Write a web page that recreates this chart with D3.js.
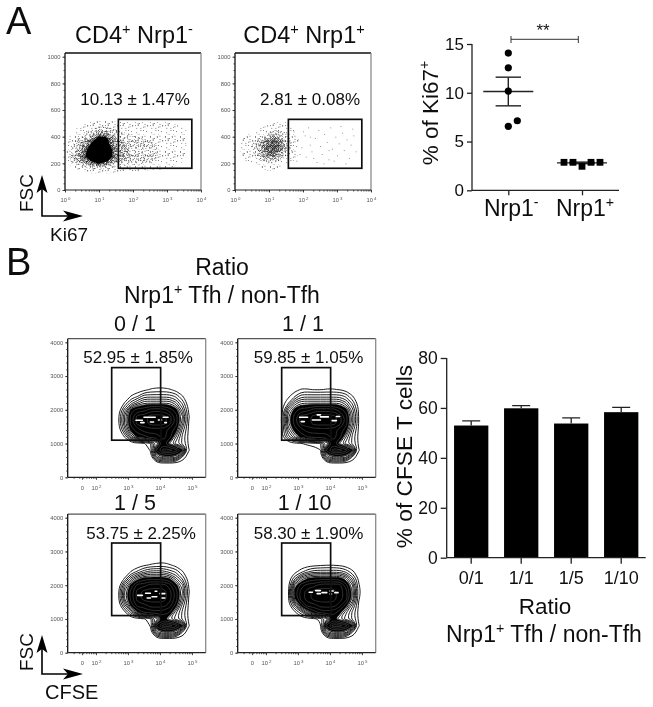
<!DOCTYPE html>
<html>
<head>
<meta charset="utf-8">
<script src="https://cdnjs.cloudflare.com/ajax/libs/d3/7.8.5/d3.min.js"></script>
<style>
  html, body { margin: 0; padding: 0; background: #fff; }
  text { font-family: "Liberation Sans", Arial, sans-serif; fill: #111; }
</style>
</head>
<body>
<svg id="fig" width="653" height="707"></svg>
<script>
// panel A dot plot
var dotGroups = ["Nrp1", "Nrp1"];
var dotSigns = ["-", "+"];
var dotValues = [[14.07, 12.56, 10.17, 7.13, 6.56], [2.87, 2.87, 2.46, 2.87, 2.87]];
var dotMeans = [10.13, 2.81];
var dotErrs = [1.47, 0.08];
var dotTicks = [0, 5, 10, 15];

// panel B bar chart
var barCats = ["0/1", "1/1", "1/5", "1/10"];
var barValues = [52.95, 59.85, 53.75, 58.3];
var barErrs = [1.85, 1.05, 2.25, 1.9];
var barTicks = [0, 20, 40, 60, 80];

// gates and labels of the flow panels
var gateA = [1.57, 3.73, 163, 530];   // log10 x from, to, FSC from, to
var gateB = [2.49, 4.02, 1100, 3250];
var labelsA = ["10.13 ± 1.47%", "2.81 ± 0.08%"];
var labelsB = ["52.95 ± 1.85%", "59.85 ± 1.05%", "53.75 ± 2.25%", "58.30 ± 1.90%"];
var ratiosB = ["0 / 1", "1 / 1", "1 / 5", "1 / 10"];

// cell density, x = 0, .25 ... 4 decades, FSC = 550, 500 ... 100
var densityA1 = [
  [0,0,0,0,0,0,0,0,0,0,0,0,0,0,0,0,0],
  [0,0,.3,.6,.8,.8,.7,.6,.6,.6,.6,.6,.6,.4,0,0,0],
  [0,.5,1,1.5,2.2,2.2,1.6,1.2,1,1,1,1,1,1,.7,0,0],
  [0,1,2,3,4.8,4.5,2.5,2,1.8,1.5,1.3,1.2,1.1,1,.7,0,0],
  [.2,1.5,3,4.5,6,5,3,2.5,2,1.8,1.6,1.4,1.2,1,.7,0,0],
  [.2,2,3.5,5.5,7,6,3.5,2.8,2.2,2,1.8,1.5,1.3,1,.7,0,0],
  [.2,2.5,4,5.5,7,6,3.5,2.8,2.4,2.2,1.8,1.5,1.2,1,.6,0,0],
  [0,2,3,4,4.8,4,2.5,2,2,1.8,1.5,1.2,1,.7,.4,0,0],
  [0,.3,.5,1,1,1,.8,.6,.6,.6,.5,.5,.4,.2,0,0,0],
  [0,0,0,0,0,0,0,0,0,0,0,0,0,0,0,0,0]
];
var densityA2 = [
  [0,0,0,0,0,0,0,0,0,0,0,0,0,0,0,0,0],
  [0,0,0,0,.3,.6,.6,.2,0,0,0,0,0,0,0,0,0],
  [0,0,.3,.7,1.2,1.5,1.2,.5,0,0,0,0,0,0,0,0,0],
  [0,.5,1,1.6,3,3.5,2,.8,.2,0,0,0,0,0,0,0,0],
  [0,.7,1.5,3,4.4,4.3,2.6,1,.2,0,0,0,0,0,0,0,0],
  [0,.8,1.6,3.2,4.4,4.4,2.6,1,.2,0,0,0,0,0,0,0,0],
  [0,.6,1.2,2.2,3.8,3,1.6,.7,0,0,0,0,0,0,0,0,0],
  [0,.3,.6,1,1.6,1,.6,.3,0,0,0,0,0,0,0,0,0],
  [0,0,0,.3,.6,.3,0,0,0,0,0,0,0,0,0,0,0],
  [0,0,0,0,0,0,0,0,0,0,0,0,0,0,0,0,0]
];
// the few events inside the Nrp1+ gate
var sparseA2 = [[1.72,440],[1.85,380],[1.95,320],[2.05,410],[2.08,250],[2.15,470],[2.2,340],[2.25,290],[2.35,390],[2.4,210],
  [2.45,450],[2.5,330],[2.55,270],[2.62,420],[2.7,360],[2.75,230],[2.8,470],[2.85,310],[2.95,400],[3.0,260],
  [3.05,350],[3.1,480],[3.15,430],[3.2,300],[3.28,380],[3.35,240],[3.4,340],[3.48,410],[3.55,290],[1.65,300],
  [1.8,220],[2.0,440],[2.3,240],[2.6,200],[2.9,220],[3.25,200],[3.45,460],[1.9,270],[2.2,400],[2.75,300]];

// contour heights, x = 2.3, 2.5 ... 5.1 decades, FSC = 2800, 2600 ... 400
var contour01 = [
  [0,0,0,0,0,0,0,0,0,0,0,0,0,0,0],
  [0,0,0,0,0,0,.2,.5,.6,.6,.5,.2,0,0,0],
  [0,0,0,0,.5,1,2,2,2,2,2,1.5,.5,0,0],
  [0,0,0,.5,2,3,4,4,4,4,4,3,1.5,0,0],
  [0,0,0,2,5,6,6,7,7,7,6,5,2.5,.3,0],
  [0,0,.3,3,6,8,8,9,9,9,8,6,3.5,.5,0],
  [0,0,.3,3,6,8,8,9,9,9,8,6,3,.4,0],
  [0,0,0,2,5,6,7,7,7,7,6,5,2,.3,0],
  [0,0,0,.5,3,5,5,6,6,7,6,3.5,1.5,.2,0],
  [0,0,0,0,0,0,.3,1,3,6,4,2.5,1.5,.3,0],
  [0,0,0,0,0,0,0,.5,6,8,8,7,5,.5,0],
  [0,0,0,0,0,0,0,0,3,4,4,3.5,1,0,0],
  [0,0,0,0,0,0,0,0,0,0,0,0,0,0,0]
];
var contour11 = [
  [0,0,0,0,0,0,0,0,0,0,0,0,0,0,0],
  [0,0,0,.2,.5,.5,.4,.4,.5,.5,.4,.2,0,0,0],
  [0,0,.3,1,2,2,2,2,2,2,2,1.5,.5,0,0],
  [0,.1,1,3,4,4,4,4,4,4,4,3,1.5,.1,0],
  [0,.3,3,5,6,6,7,7,7,7,6,5,2.5,.3,0],
  [0,.5,4,6,8,8,9,9,9,9,8,6,3,.4,0],
  [0,.5,4,6,8,8,9,9,9,9,8,6,3,.4,0],
  [0,.4,3,5,6,7,7,7,7,7,6,5,2,.3,0],
  [0,.3,2,3.5,5,5.5,6,6,6,7,6,3.5,1.5,.2,0],
  [0,0,0,.2,.4,.6,.8,1,3,6,4,2.5,1.5,.3,0],
  [0,0,0,0,0,0,0,.4,6,8,8,7,5,.5,0],
  [0,0,0,0,0,0,0,0,3,4,4,3.5,1,0,0],
  [0,0,0,0,0,0,0,0,0,0,0,0,0,0,0]
];
var contour15 = [
  [0,0,0,0,0,0,0,0,0,0,0,0,0,0,0],
  [0,0,0,0,0,0,.3,.5,.6,.7,.5,.2,0,0,0],
  [0,0,0,0,.5,1.2,2,2.5,2.5,2.5,2,1.5,.5,0,0],
  [0,0,0,.5,2.5,4,5,5,5,5,4.5,3,1.5,.1,0],
  [0,0,0,2.5,5,7,7,8,8,8,7,5,3,.4,0],
  [0,0,.3,3.5,6,8,9,9,9,9,8,6,3.5,.5,0],
  [0,0,.3,3.5,6,8,9,9,9,9,8,6,3,.4,0],
  [0,0,0,2,5,7,7,8,8,8,7,5,2,.3,0],
  [0,0,0,.3,2,4.5,5.5,6,6,6,5.5,3,1.5,.2,0],
  [0,0,0,0,0,0,.3,.8,2.5,5,3.5,2.5,1.5,.3,0],
  [0,0,0,0,0,0,0,.5,6,8,8,7,5,.5,0],
  [0,0,0,0,0,0,0,0,3,4,4,3.5,1,0,0],
  [0,0,0,0,0,0,0,0,0,0,0,0,0,0,0]
];
var contour110 = [
  [0,0,0,0,0,0,0,0,0,0,0,0,0,0,0],
  [0,0,0,0,0,.1,.2,.3,.4,.4,.3,.1,0,0,0],
  [0,0,0,.2,.8,1.5,2,2,2,2,2,1.5,.6,0,0],
  [0,0,0,1.5,3.5,4.5,5,5,5,5,5,4,2,.3,0],
  [0,0,.2,4,6,7,7,8,8,8,8,6,3.5,.5,0],
  [0,0,.4,5,7,8,9,9,9,9,8,7,4,.6,0],
  [0,0,.4,4.5,7,8,9,9,9,9,8,7,4,.5,0],
  [0,0,.1,2,5,7,7,8,8,8,7,5,2.5,.3,0],
  [0,0,0,.3,1.5,3.5,5,6,6,6,5,3,1.5,.2,0],
  [0,0,0,0,0,0,.2,.6,2,5,3.5,2.5,1.5,.3,0],
  [0,0,0,0,0,0,0,.4,6,8,8,7,5,.5,0],
  [0,0,0,0,0,0,0,0,3,4,4,3.5,1,0,0],
  [0,0,0,0,0,0,0,0,0,0,0,0,0,0,0]
];
var contoursB = [contour01, contour11, contour15, contour110];

// white gaps left at the peak of each contour plot: x from, x to, FSC
var specks01 = [[3.25,3.45,1690],[3.5,3.85,1780],[3.4,3.5,1620],[3.7,3.8,1640],[3.95,4.05,1700],[4.1,4.25,1780],[4.15,4.2,1620]];
var specks11 = [[3.05,3.3,1780],[3.1,3.2,1650],[3.45,3.7,1700],[3.7,3.95,1790],[3.6,3.7,1850],[4.05,4.2,1680],[4.2,4.3,1800]];
var specks15 = [[3.3,3.45,1700],[3.55,3.7,1760],[3.6,3.7,1620],[3.75,3.9,1660],[4.0,4.15,1750],[4.05,4.15,1620],[3.85,3.9,1820]];
var specks110 = [[3.35,3.45,1790],[3.55,3.7,1840],[3.6,3.7,1750],[3.75,3.9,1780],[4.0,4.1,1830],[4.0,4.05,1740],[4.15,4.25,1780]];
var specksB = [specks01, specks11, specks15, specks110];

// scattered dot tile used for the stipple fills
var tileDots = [[2,3],[11,1],[17,6],[6,9],[14,13],[3,16],[9,18],[18,17],[12,7],[1,11],[7,14],[16,2],
  [5,1],[13,4],[19,10],[9,5],[4,7],[15,9],[11,15],[0,18],[17,13],[7,19],[2,13],[13,18],
  [8,2],[19,4],[3,5],[10,10],[15,5],[6,12],[12,12],[1,8],[5,17],[16,16],[9,14],[18,0],[14,1],[0,4],[7,7],[12,19]];

var svg = d3.select("#fig");
var defs = svg.append("defs");
defs.append("filter").attr("id", "soft")
    .attr("filterUnits", "userSpaceOnUse")
    .attr("x", 0).attr("y", 0).attr("width", 653).attr("height", 707)
  .append("feGaussianBlur").attr("stdDeviation", 0.42);

var root = svg.append("g").attr("filter", "url(#soft)");
root.append("rect").attr("width", 653).attr("height", 707).attr("fill", "#fff");

// stipple patterns, one per density band: tile size and how many dots
[[15, 24], [14, 40], [10, 40], [8, 40], [6, 40]].forEach(function(p, i) {
    var tile = defs.append("pattern").attr("id", "stipple" + i)
        .attr("width", p[0]).attr("height", p[0]).attr("patternUnits", "userSpaceOnUse");
    tile.selectAll("rect").data(tileDots.slice(0, p[1])).enter().append("rect")
        .attr("x", function(d) { return (d[0] * 1.37) % p[0]; }).attr("y", function(d) { return (d[1] * 1.13) % p[0]; })
        .attr("width", 0.75).attr("height", 0.75).attr("fill", "#222");
});

// text with superscript pieces: parts = [["CD4"], ["+", true], ...]
function label(parent, x, y, size, parts, anchor, rotate) {
    var t = parent.append("text").attr("font-size", size).attr("text-anchor", anchor || "middle");
    if (rotate) t.attr("transform", "translate(" + x + "," + y + ") rotate(-90)");
    else t.attr("x", x).attr("y", y);
    var lift = 0;
    parts.forEach(function(p) {
        var s = t.append("tspan").text(p[0]);
        if (p[1]) {
            s.attr("font-size", size * 0.62).attr("dy", -size * 0.38);
            lift = size * 0.38;
        } else if (lift) {
            s.attr("dy", lift);
            lift = 0;
        }
    });
    return t;
}

function arrows(cx, top, corner, right) {
    var g = root.append("g");
    g.append("path").attr("fill", "none").attr("stroke", "#000").attr("stroke-width", 1.6)
        .attr("d", "M" + cx + "," + (top + 10) + "V" + corner + "H" + (right - 10));
    g.append("path").attr("fill", "#000")
        .attr("d", "M" + cx + "," + top + "l5.5,18l-5.5,-4l-5.5,4z");
    g.append("path").attr("fill", "#000")
        .attr("d", "M" + right + "," + corner + "l-20,-5.5l5,5.5l-5,5.5z");
}

function frame(g, x0, x1, y0, y1, topColor) {
    g.append("line").attr("x1", x0).attr("x2", x1).attr("y1", y0).attr("y2", y0)
        .attr("stroke", topColor).attr("stroke-width", 1.3);
    g.append("line").attr("x1", x0).attr("x2", x0).attr("y1", y0).attr("y2", y1)
        .attr("stroke", "#111").attr("stroke-width", 1.3);
    g.append("line").attr("x1", x1).attr("x2", x1).attr("y1", y0).attr("y2", y1)
        .attr("stroke", "#8a8a8a").attr("stroke-width", 1.3);
    g.append("line").attr("x1", x0).attr("x2", x1).attr("y1", y1).attr("y2", y1)
        .attr("stroke", "#222").attr("stroke-width", 1.2);
}

// draws the tiny axes, gives back the labelled x axis
function smallAxes(g, xAxisMajor, xAxisMinor, yAxisMajor, yAxisMinor, bottom, left) {
    g.append("g").attr("transform", "translate(0," + bottom + ")").call(xAxisMinor);
    var major = g.append("g").attr("transform", "translate(0," + bottom + ")").call(xAxisMajor);
    g.append("g").attr("transform", "translate(" + left + ",0)").call(yAxisMinor);
    g.append("g").attr("transform", "translate(" + left + ",0)").call(yAxisMajor);
    g.selectAll(".domain").remove();
    g.selectAll(".tick line").attr("stroke", "#222").attr("stroke-width", 0.8);
    g.selectAll(".tick text").attr("font-size", 5.8).style("fill", "#555");
    return major;
}

// ---- panel A, flow plots ----
var yA = d3.scaleLinear().domain([0, 1000]).range([190, 56.7]);
[0, 1].forEach(function(i) {
    var left = i ? 235 : 65;
    var xA = d3.scaleLog().domain([1, 10000]).range([left, left + 136]);
    var g = root.append("g");
    var grid = i ? densityA2 : densityA1;
    var rows = grid.length, cols = grid[0].length;
    // grid index to screen; the contour generator puts values on cell centres
    var proj = d3.geoTransform({point: function(x, y) {
        this.stream.point(xA(Math.pow(10, (x - 0.5) * 0.25)), yA(550 - (y - 0.5) * 50));
    }});
    var path = d3.geoPath(proj);
    var bands = d3.contours().size([cols, rows]).thresholds([0.5, 1.5, 2.5, 3.3, 4, 4.6])(d3.merge(grid));
    g.selectAll("path.band").data(bands).enter().append("path")
        .attr("d", path)
        .attr("fill", function(d, k) { return k < 5 ? "url(#stipple" + k + ")" : "#000"; });

    if (i) {
        g.selectAll("rect.ev").data(sparseA2).enter().append("rect")
            .attr("x", function(d) { return xA(Math.pow(10, d[0])); })
            .attr("y", function(d) { return yA(d[1]); })
            .attr("width", 1).attr("height", 1).attr("fill", "#999");
    }

    g.append("rect")
        .attr("x", xA(Math.pow(10, gateA[0]))).attr("width", xA(Math.pow(10, gateA[1])) - xA(Math.pow(10, gateA[0])))
        .attr("y", yA(gateA[3])).attr("height", yA(gateA[2]) - yA(gateA[3]))
        .attr("fill", "none").attr("stroke", "#111").attr("stroke-width", 1.7);

    frame(g, left, left + 136, 53, 190, "#111");
    var xMajor = d3.axisBottom(xA).tickValues([1, 10, 100, 1000, 10000]).tickSize(2.5).tickPadding(5);
    var xMinor = d3.axisBottom(xA).ticks(10).tickSize(1.5).tickFormat("");
    var yMajor = d3.axisLeft(yA).tickValues([0, 200, 400, 600, 800, 1000]).tickSize(2.5).tickPadding(2).tickFormat(d3.format("d"));
    var yMinor = d3.axisLeft(yA).tickValues(d3.range(0, 1001, 50)).tickSize(1.5).tickFormat("");
    var major = smallAxes(g, xMajor, xMinor, yMajor, yMinor, 190, left);
    major.selectAll(".tick text").each(function(d) {
        var t = d3.select(this).text("10");
        t.append("tspan").attr("font-size", 4.4).attr("dy", -2).attr("dx", 1).text(Math.round(Math.log10(d)));
    });
    label(root, i ? 310 : 135, 105, 17, [[labelsA[i]]]);
});
label(root, 134, 43, 23.5, [["CD4"], ["+", true], [" Nrp1"], ["-", true]]);
label(root, 304, 43, 23.5, [["CD4"], ["+", true], [" Nrp1"], ["+", true]]);
label(root, 6, 34, 38, [["A"]], "start");
label(root, 6, 275, 38, [["B"]], "start");
arrows(42, 175, 216, 83);
label(root, 33, 193, 19, [["FSC"]], "middle", true);
label(root, 50, 241, 19, [["Ki67"]], "start");

// ---- panel A, dot plot ----
var yDot = d3.scaleLinear().domain([0, 15]).range([190.3, 44]);
var xDot = d3.scalePoint().domain([0, 1]).range([508.3, 582]);
var dotPlot = root.append("g");

// spread overlapping points sideways
function dodge(values, cx) {
    var placed = [];
    values.slice().sort(d3.ascending).forEach(function(v) {
        var y = yDot(v), n = 0, x;
        do {
            var off = n === 0 ? 0 : (n % 2 ? 1 : -1) * Math.ceil(n / 2) * 9;
            x = cx + off;
            n++;
        } while (placed.some(function(p) { return Math.abs(p.x - x) < 7 && Math.abs(p.y - y) < 7; }));
        placed.push({x: x, y: y});
    });
    return placed;
}

dotGroups.forEach(function(name, i) {
    var cx = xDot(i);
    var pts = dodge(dotValues[i], cx);
    var m = dotPlot.append("g").attr("stroke", "#222").attr("stroke-width", 1.4);
    m.append("line").attr("x1", cx - 25).attr("x2", cx + 25).attr("y1", yDot(dotMeans[i])).attr("y2", yDot(dotMeans[i]));
    m.append("line").attr("x1", cx).attr("x2", cx).attr("y1", yDot(dotMeans[i] - dotErrs[i])).attr("y2", yDot(dotMeans[i] + dotErrs[i]));
    [-1, 1].forEach(function(s) {
        var v = dotMeans[i] + s * dotErrs[i];
        m.append("line").attr("x1", cx - 12.7).attr("x2", cx + 12.7).attr("y1", yDot(v)).attr("y2", yDot(v));
    });
    if (i === 0) {
        dotPlot.selectAll("circle").data(pts).enter().append("circle")
            .attr("cx", function(d) { return d.x; }).attr("cy", function(d) { return d.y; })
            .attr("r", 3.6).attr("fill", "#000");
    } else {
        dotPlot.selectAll("rect").data(pts).enter().append("rect")
            .attr("x", function(d) { return d.x - 3.4; }).attr("y", function(d) { return d.y - 3.4; })
            .attr("width", 6.8).attr("height", 6.8).attr("fill", "#000");
    }
    label(root, cx + 3, 216, 23, [[name], [dotSigns[i], true]]);
});

var dotY = root.append("g").attr("transform", "translate(472,0)")
    .call(d3.axisLeft(yDot).tickValues(dotTicks).tickSize(5).tickPadding(3));
dotY.selectAll("text").attr("font-size", 17);
var dotX = root.append("g").attr("transform", "translate(0,190.3)")
    .call(d3.axisBottom(xDot).tickSize(5).tickFormat(""));
[dotY, dotX].forEach(function(a) {
    a.selectAll("line").attr("stroke", "#222").attr("stroke-width", 1.3);
    a.select(".domain").attr("stroke", "#222").attr("stroke-width", 1.3);
});
dotY.select(".domain").attr("d", "M0,44V190.3");
dotX.select(".domain").attr("d", "M472,0H619");
label(root, 437.5, 113, 22.5, [["% of Ki67"], ["+", true]], "middle", true);

var bracket = root.append("g").attr("stroke", "#333").attr("stroke-width", 1);
bracket.append("path").attr("fill", "none").attr("d", "M511,36V43M511,39.3H578.3M578.3,36V43");
label(root, 543, 36, 17, [["**"]]);

// ---- panel B, flow plots ----
contoursB.forEach(function(grid, i) {
    var ox = i % 2 ? 170 : 0;
    var oy = i > 1 ? 175.4 : 0;
    var xB = d3.scaleLinear().domain([2, 5]).range([96 + ox, 192 + ox]);
    var yB = d3.scaleLinear().domain([0, 4000]).range([477.3 + oy, 342.3 + oy]);
    var g = root.append("g");
    var flat = d3.merge(grid);
    var gen = d3.contours().size([grid[0].length, grid.length]);
    var line = d3.line()
        .x(function(p) { return xB(2.3 + (p[0] - 0.5) * 0.2); })
        .y(function(p) { return yB(2800 - (p[1] - 0.5) * 200); })
        .curve(d3.curveBasisClosed);
    function ringsAt(levels) {
        var rings = [];
        gen.thresholds(levels)(flat).forEach(function(c) {
            c.coordinates.forEach(function(poly) {
                poly.forEach(function(ring) { rings.push(ring.slice(0, -1)); });
            });
        });
        return rings;
    }
    g.selectAll("path.ring").data(ringsAt(d3.range(0.45, 4.5, 0.6))).enter().append("path")
        .attr("class", "ring").attr("d", line)
        .attr("fill", "none").attr("stroke", "#000").attr("stroke-width", 0.9);
    g.selectAll("path.core").data(ringsAt([4.5])).enter().append("path")
        .attr("class", "core").attr("d", line).attr("fill", "#000").attr("stroke", "#000").attr("stroke-width", 0.6);
    g.selectAll("path.inner").data(ringsAt([5.5, 6.5, 7.5, 8.5])).enter().append("path")
        .attr("class", "inner").attr("d", line)
        .attr("fill", "none").attr("stroke", "#fff").attr("stroke-opacity", 0.3).attr("stroke-width", 0.6);
    g.selectAll("line.speck").data(specksB[i]).enter().append("line")
        .attr("class", "speck")
        .attr("x1", function(d) { return xB(d[0]); }).attr("x2", function(d) { return xB(d[1]); })
        .attr("y1", function(d) { return yB(d[2]); }).attr("y2", function(d) { return yB(d[2]); })
        .attr("stroke", "#fff").attr("stroke-width", 1.6).attr("stroke-linecap", "round");

    g.append("rect")
        .attr("x", xB(gateB[0])).attr("width", xB(gateB[1]) - xB(gateB[0]))
        .attr("y", yB(gateB[3])).attr("height", yB(gateB[2]) - yB(gateB[3]))
        .attr("fill", "none").attr("stroke", "#111").attr("stroke-width", 1.7);

    var xL = 67.7 + ox, xR = 205.7 + ox;
    frame(g, xL, xR, 338.7 + oy, 477.3 + oy, "#555");

    // the 0 of the biexponential axis sits at 1.56 decades on this scale
    var minor = [];
    [1, 2, 3, 4].forEach(function(d) {
        [2, 3, 4, 5, 6, 7, 8, 9].forEach(function(k) {
            minor.push(d + Math.log10(k));
        });
    });
    var tickPos = [1.56, 2, 3, 4, 5];
    var tickText = ["0", "10", "10", "10", "10"];
    var tickSup = ["", "2", "3", "4", "5"];
    var xMajor = d3.axisBottom(xB).tickValues(tickPos).tickSize(2.5).tickPadding(6)
        .tickFormat(function(d, n) { return tickText[n]; });
    var xMinor = d3.axisBottom(xB).tickValues(minor.filter(function(v) { return v > 0.6 && v < 5.4; })).tickSize(1.5).tickFormat("");
    var yMajor = d3.axisLeft(yB).tickValues([0, 1000, 2000, 3000, 4000]).tickSize(2.5).tickPadding(2).tickFormat(d3.format("d"));
    var yMinor = d3.axisLeft(yB).tickValues(d3.range(0, 4001, 200)).tickSize(1.5).tickFormat("");
    var major = smallAxes(g, xMajor, xMinor, yMajor, yMinor, 477.3 + oy, xL);
    major.selectAll(".tick text").each(function(d, n) {
        d3.select(this).append("tspan").attr("font-size", 4.4).attr("dy", -2).attr("dx", 1).text(tickSup[n]);
    });

    label(root, (i % 2 ? (i > 1 ? 304.6 : 303) : 135), (i > 1 ? 510 : 331), 21.5, [[ratiosB[i]]]);
    label(root, (i % 2 ? 308.5 : 138) + (i === 2 ? 3 : 0), (i > 1 ? 538.5 : 362.6), 17, [[labelsB[i]]]);
});
label(root, 222, 275, 23, [["Ratio"]]);
label(root, 222, 302.7, 23, [["Nrp1"], ["+", true], [" Tfh / non-Tfh"]]);
arrows(42, 635, 674, 83);
label(root, 33, 652, 19, [["FSC"]], "middle", true);
label(root, 45, 699, 20, [["CFSE"]], "start");

// ---- panel B, bars ----
var xBar = d3.scaleBand().domain(barCats).range([446.7, 645.7]).paddingInner(0.314).paddingOuter(0.147);
var yBar = d3.scaleLinear().domain([0, 80]).range([557.7, 358]);
var bars = root.append("g");
bars.selectAll("rect").data(barCats).enter().append("rect")
    .attr("x", function(d) { return xBar(d); })
    .attr("width", xBar.bandwidth())
    .attr("y", function(d, i) { return yBar(barValues[i]); })
    .attr("height", function(d, i) { return yBar(0) - yBar(barValues[i]); })
    .attr("fill", "#000");
bars.selectAll("path").data(barCats).enter().append("path")
    .attr("fill", "none").attr("stroke", "#222").attr("stroke-width", 1.3)
    .attr("d", function(d, i) {
        var cx = xBar(d) + xBar.bandwidth() / 2;
        var top = yBar(barValues[i] + barErrs[i]);
        return "M" + cx + "," + yBar(barValues[i]) + "V" + top + "M" + (cx - 9) + "," + top + "H" + (cx + 9);
    });

var barY = root.append("g").attr("transform", "translate(446.7,0)")
    .call(d3.axisLeft(yBar).tickValues(barTicks).tickSize(6).tickPadding(3));
barY.selectAll("text").attr("font-size", 17.5);
var barX = root.append("g").attr("transform", "translate(0,557.7)")
    .call(d3.axisBottom(xBar).tickSize(6).tickPadding(8));
barX.selectAll("text").attr("font-size", 18);
[barY, barX].forEach(function(a) {
    a.selectAll("line").attr("stroke", "#222").attr("stroke-width", 1.3);
    a.select(".domain").attr("stroke", "#222").attr("stroke-width", 1.3);
});
barY.select(".domain").attr("d", "M0,358V557.7");
barX.select(".domain").attr("d", "M446.7,0H645.7");
label(root, 411.5, 456.5, 22.7, [["% of CFSE T cells"]], "middle", true);
label(root, 545, 614, 22.5, [["Ratio"]]);
label(root, 544, 642, 23, [["Nrp1"], ["+", true], [" Tfh / non-Tfh"]]);
</script>
</body>
</html>
